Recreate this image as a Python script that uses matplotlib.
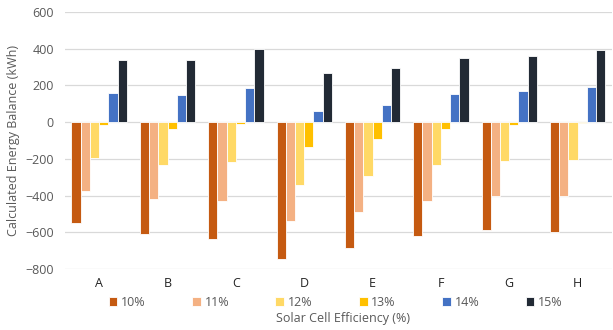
import numpy as np
import matplotlib.pyplot as plt

plt.rcParams['font.family'] = ['Open Sans', 'DejaVu Sans']

sites = ['A', 'B', 'C', 'D', 'E', 'F', 'G', 'H']
series = ['10%', '11%', '12%', '13%', '14%', '15%']
colors = ['#C55A11', '#F4B183', '#FFD966', '#FFC000', '#4472C4', '#222A35']

eff_10 = [-550, -610, -635, -745, -685, -620, -590, -600]
eff_11 = [-375, -420, -430, -540, -490, -430, -400, -400]
eff_12 = [-197, -232, -220, -342, -292, -232, -210, -205]
eff_13 = [-15, -40, -12, -137, -95, -38, -15, -5]
eff_14 = [159, 145, 188, 60, 95, 152, 168, 190]
eff_15 = [338, 336, 397, 267, 295, 350, 362, 392]
values = [eff_10, eff_11, eff_12, eff_13, eff_14, eff_15]

fig = plt.figure(figsize=(6.13, 3.3), dpi=100)
ax = fig.add_axes([0.106, 0.185, 0.892, 0.779])

x = np.arange(len(sites))
w = 0.135
for i, (lab, vals, c) in enumerate(zip(series, values, colors)):
    ax.bar(x + (i - 2.5) * w, vals, w, color=c, edgecolor='white',
           linewidth=0.6, label=lab, zorder=3)

ax.set_xlim(-0.5, len(sites) - 0.5)
ax.set_ylim(-800, 600)
ax.set_yticks(np.arange(-800, 601, 200))
ax.set_xticks(x)
ax.set_xticklabels(sites)
ax.grid(axis='y', color='#D9D9D9', linewidth=0.9, zorder=0)
for s in ax.spines.values():
    s.set_visible(False)
ax.tick_params(axis='both', length=0)
ax.tick_params(axis='y', labelsize=9, colors='#595959', pad=8)
ax.tick_params(axis='x', labelsize=9, colors='#222222', pad=6)
ax.set_ylabel('Calculated Energy Balance (kWh)', fontsize=9, color='#595959')

leg = ax.legend(loc='upper center', bbox_to_anchor=(0.495, -0.06), ncol=6,
                frameon=False, fontsize=9, handlelength=0.7, handleheight=0.7,
                handletextpad=0.3, columnspacing=3.7, labelcolor='#595959')
fig.text(0.56, 0.025, 'Solar Cell Efficiency (%)', ha='center', fontsize=9,
         color='#595959')

fig.savefig('out.png', dpi=100)
